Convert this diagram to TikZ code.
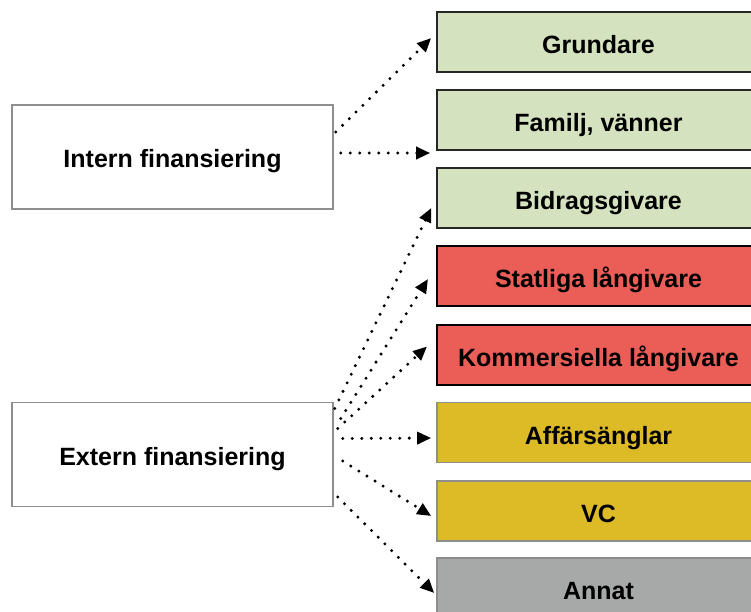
\documentclass[tikz,border=0pt]{standalone}
\usepackage{fontspec}
\setmainfont{Liberation Sans}
\usetikzlibrary{arrows.meta}
\definecolor{cgreen}{HTML}{D4E2BF}
\definecolor{cred}{HTML}{EB5E58}
\definecolor{cyellow}{HTML}{DDBB26}
\definecolor{cgrey}{HTML}{A7A9A9}
\definecolor{cedge}{HTML}{8E8E8E}
\tikzset{
  lbox/.style={draw=cedge, line width=1.5pt, fill=white, minimum width=321pt, minimum height=104pt, inner sep=0pt,
    text height=21pt, text depth=0pt, font=\bfseries\fontsize{25}{30}\selectfont},
  rbox/.style={line width=1.6pt, minimum width=323pt, minimum height=60pt, inner sep=0pt,
    text height=23.5pt, text depth=0pt, font=\bfseries\fontsize{25}{30}\selectfont},
  gbox/.style={rbox, draw=black!85, fill=cgreen},
  redbox/.style={rbox, draw=black, line width=2pt, fill=cred},
  ybox/.style={rbox, draw=cedge, fill=cyellow},
  greybox/.style={rbox, draw=black!45, fill=cgrey},
  arr/.style={line width=3.3pt, line cap=round, dash pattern=on 0pt off 9.5pt,
    -{Triangle[length=14pt,width=12pt]}},
}
\begin{document}
\begin{tikzpicture}[x=1pt,y=-1pt]
\useasboundingbox (0,0) rectangle (751,611);
\clip (0,0) rectangle (751,611);
% left boxes
\node[lbox] (int) at (172.5,157) {Intern finansiering};
\node[lbox] (ext) at (172.5,454.5) {Extern finansiering};
% right boxes
\node[gbox] (g1) at (598.5,42) {Grundare};
\node[gbox] (g2) at (598.5,120) {Familj, vänner};
\node[gbox] (g3) at (598.5,198) {Bidragsgivare};
\node[redbox] (r1) at (598.5,276) {Statliga långivare};
\node[redbox] (r2) at (598.5,354.5) {Kommersiella långivare};
\node[ybox] (y1) at (598.5,432.5) {Affärsänglar};
\node[ybox] (y2) at (598.5,511) {VC};
\node[greybox] (n1) at (598.5,588) {Annat};
% connectors
\draw[arr] ([xshift=2pt,yshift=25pt]int.east) -- ([xshift=-5pt,yshift=4pt]g1.west);
\draw[arr] ([xshift=7pt,yshift=4pt]int.east) -- ([xshift=-6pt,yshift=-33pt]g2.west);
\draw[arr] ([xshift=1pt,yshift=46pt]ext.east) -- ([xshift=-5pt,yshift=-10pt]g3.west);
\draw[arr] ([xshift=7pt,yshift=36pt]ext.east) -- ([xshift=-8pt,yshift=-3pt]r1.west);
\draw[arr] ([xshift=4pt,yshift=26pt]ext.east) -- ([xshift=-9pt,yshift=8pt]r2.west);
\draw[arr] ([xshift=9pt,yshift=16pt]ext.east) -- ([xshift=-5pt,yshift=-5.5pt]y1.west);
\draw[arr] ([xshift=9pt,yshift=-6.5pt]ext.east) -- ([xshift=-5pt,yshift=-5pt]y2.west);
\draw[arr] ([xshift=4pt,yshift=-42.5pt]ext.east) -- ([xshift=-2pt,yshift=-5pt]n1.west);
\end{tikzpicture}
\end{document}
